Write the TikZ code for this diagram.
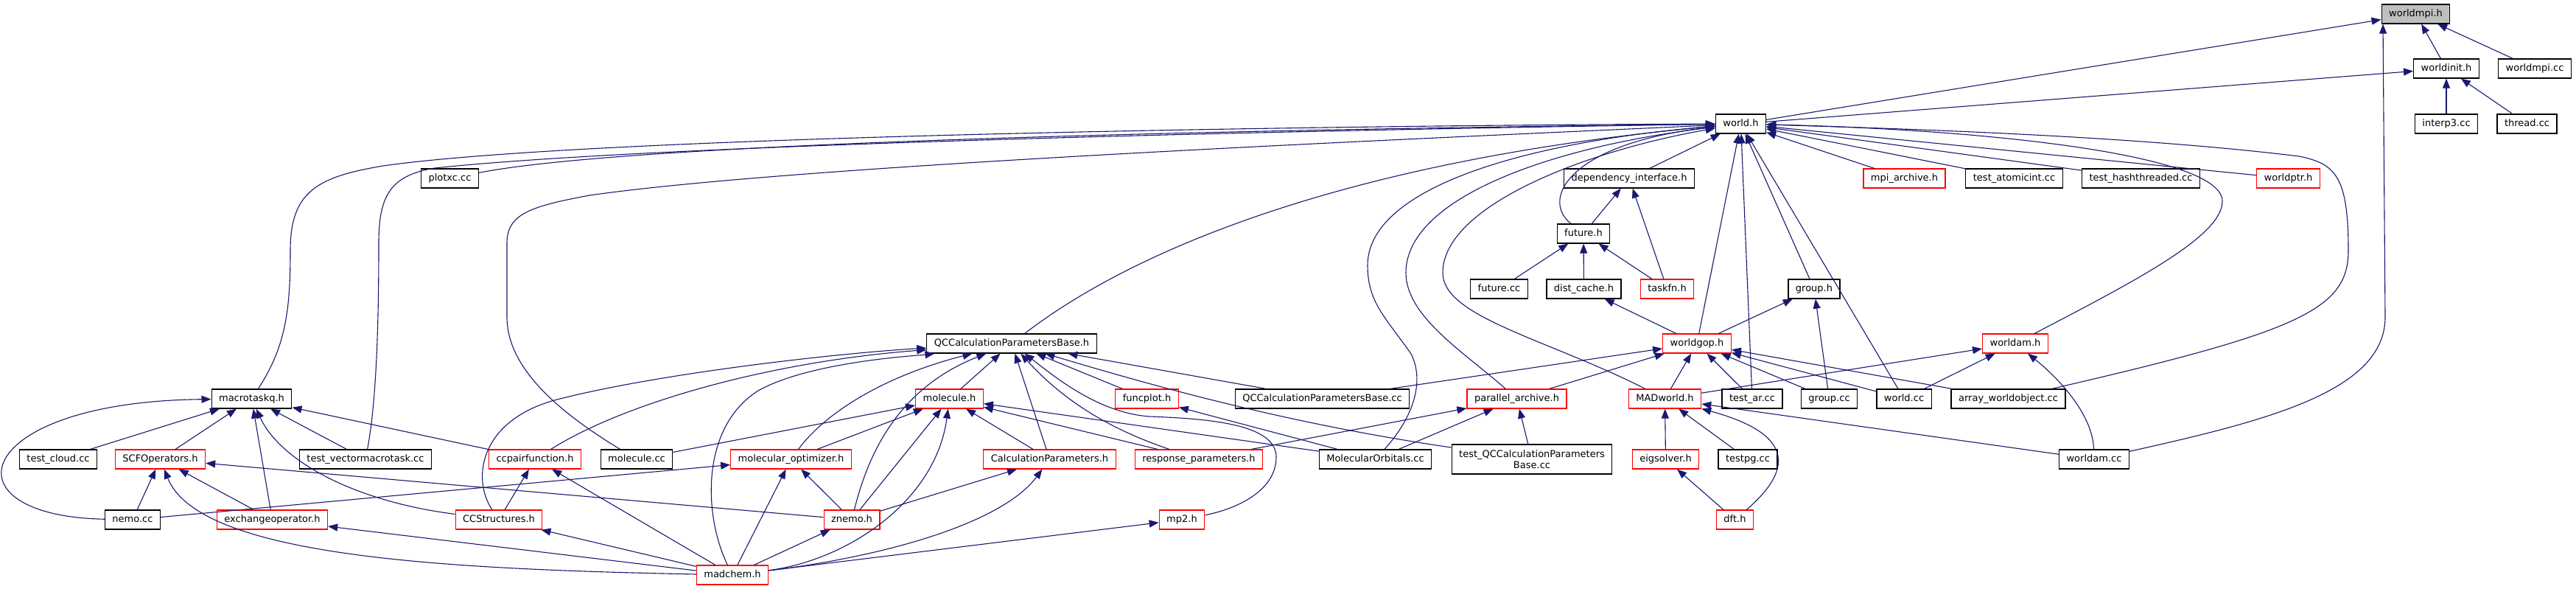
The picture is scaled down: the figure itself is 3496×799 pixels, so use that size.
\documentclass[tikz,border=0pt]{standalone}
\usepackage{fontspec}
\setmainfont{DejaVu Sans}
\usepackage{tikz}
\usetikzlibrary{arrows.meta}
\usepackage{xcolor}
\definecolor{incblue}{HTML}{191970}
\definecolor{rootfill}{HTML}{BFBFBF}
\definecolor{cut}{HTML}{FF0000}
\tikzset{
  >={Triangle[length=13pt,width=10pt]},
  every node/.style={font=\fontsize{13}{15}\selectfont},
  filebox/.style={draw=black,fill=white,line width=1.2pt,minimum height=26pt,inner xsep=10pt,inner ysep=2pt},
  hbox/.style={filebox,text height=9.6pt,text depth=2.6pt},
  cutbox/.style={hbox,draw=cut},
  rootbox/.style={hbox,fill=rootfill},
  incl/.style={->,line width=1.1pt,draw=incblue},
}
\begin{document}
\begin{tikzpicture}[x=1pt,y=-1pt]

\fill[white] (0,0) rectangle (3496,799);
\useasboundingbox (0,0) rectangle (3496,799);

\node[rootbox] (wmpih) at (3278.5,19) {worldmpi.h};
\node[hbox] (winit) at (3320,93) {worldinit.h};
\node[hbox] (wmpicc) at (3440,93) {worldmpi.cc};
\node[hbox] (worldh) at (2362.5,168) {world.h};
\node[hbox] (interp) at (3320,168) {interp3.cc};
\node[hbox] (thread) at (3429.5,168) {thread.cc};

\node[hbox] (plotxc) at (610.5,242) {plotxc.cc};
\node[hbox] (depint) at (2211,242) {dependency\_interface.h};
\node[cutbox] (mpiarch) at (2584.5,242) {mpi\_archive.h};
\node[hbox] (atomic) at (2733.5,242) {test\_atomicint.cc};
\node[hbox] (hashthr) at (2905.5,242) {test\_hashthreaded.cc};
\node[cutbox] (wptr) at (3105.5,242) {worldptr.h};
\node[hbox] (futureh) at (2149,317) {future.h};
\node[hbox] (futurecc) at (2034.5,392) {future.cc};
\node[hbox] (distc) at (2149.5,392) {dist\_cache.h};
\node[cutbox] (taskfn) at (2262.5,392) {taskfn.h};
\node[hbox] (grouph) at (2462,392) {group.h};

\node[hbox] (qcpbh) at (1373,466) {QCCalculationParametersBase.h};
\node[cutbox] (wgop) at (2303,466) {worldgop.h};
\node[cutbox] (wamh) at (2735,466) {worldam.h};

\node[hbox] (mtq) at (341.5,541) {macrotaskq.h};
\node[cutbox] (molh) at (1288.5,541) {molecule.h};
\node[cutbox] (fplot) at (1556.5,541) {funcplot.h};
\node[hbox] (qcpbcc) at (1794.5,541) {QCCalculationParametersBase.cc};
\node[cutbox] (pararch) at (2058.5,541) {parallel\_archive.h};
\node[cutbox] (madw) at (2259.5,541) {MADworld.h};
\node[hbox] (testar) at (2378,541) {test\_ar.cc};
\node[hbox] (groupcc) at (2482.5,541) {group.cc};
\node[hbox] (worldcc) at (2584,541) {world.cc};
\node[hbox] (awo) at (2725.5,541) {array\_worldobject.cc};

\node[hbox] (tcloud) at (79,623) {test\_cloud.cc};
\node[cutbox] (scfop) at (217.5,623) {SCFOperators.h};
\node[hbox] (tvmt) at (496,623) {test\_vectormacrotask.cc};
\node[cutbox] (ccpair) at (726,623) {ccpairfunction.h};
\node[hbox] (molcc) at (864,623) {molecule.cc};
\node[cutbox] (molopt) at (1073.5,623) {molecular\_optimizer.h};
\node[cutbox] (calcp) at (1424.5,623) {CalculationParameters.h};
\node[cutbox] (respp) at (1627,623) {response\_parameters.h};
\node[hbox] (morb) at (1866.5,623) {MolecularOrbitals.cc};
\node[filebox,align=center,minimum height=40pt] (tqcpb) at (2079,623) {test\_QCCalculationParameters\\Base.cc};
\node[cutbox] (eigs) at (2260.5,623) {eigsolver.h};
\node[hbox] (testpg) at (2372,623) {testpg.cc};
\node[hbox] (wamcc) at (2842,623) {worldam.cc};

\node[hbox] (nemo) at (180,705) {nemo.cc};
\node[cutbox] (xop) at (369.5,705) {exchangeoperator.h};
\node[cutbox] (ccs) at (677,705) {CCStructures.h};
\node[cutbox] (znemo) at (1156,705) {znemo.h};
\node[cutbox] (mp2) at (1604,705) {mp2.h};
\node[cutbox] (dft) at (2354.5,705) {dft.h};
\node[cutbox] (madchem) at (994,780) {madchem.h};

\draw[incl] (worldh) -- (wmpih);
\draw[incl] (winit) -- (wmpih);
\draw[incl] (wmpicc) -- (wmpih);
\draw[incl] (wamcc) .. controls (3080,570) and (3237,530) .. (3237,430) -- (wmpih.197);
\draw[incl] (worldh) -- (winit);
\draw[incl] (interp) -- (winit);
\draw[incl] (thread) -- (winit);

\draw[incl] (depint) -- (worldh);
\draw[incl] (mpiarch) -- (worldh);
\draw[incl] (atomic) -- (worldh);
\draw[incl] (hashthr) -- (worldh);
\draw[incl] (wptr) -- (worldh);
\draw[incl] (grouph) -- (worldh);
\draw[incl] (wgop) -- (worldh);
\draw[incl] (testar) -- (worldh);
\draw[incl] (worldcc) -- (worldh);
\draw[incl] (plotxc) .. controls (800,205) and (1300,180) .. (worldh);
\draw[incl] (qcpbh) .. controls (1550,330) and (1850,215) .. (worldh);
\draw[incl] (mtq) .. controls (388,470) and (394,420) .. (394,340) .. controls (394,260) and (430,240) .. (520,225) .. controls (800,185) and (1800,170) .. (worldh);
\draw[incl] (tvmt) .. controls (512,540) and (514,420) .. (514,330) .. controls (514,265) and (530,238) .. (590,228) .. controls (900,195) and (1800,176) .. (worldh);
\draw[incl] (molcc) .. controls (760,560) and (688,500) .. (688,430) -- (688,330) .. controls (688,290) and (720,280) .. (800,265) .. controls (1100,222) and (2000,185) .. (worldh);
\draw[incl] (futureh) .. controls (2090,270) and (2130,195) .. (worldh);
\draw[incl] (morb) .. controls (1915,570) and (1935,520) .. (1915,480) .. controls (1880,430) and (1856,410) .. (1856,360) .. controls (1856,260) and (2050,195) .. (worldh);
\draw[incl] (pararch) .. controls (1990,480) and (1908,430) .. (1908,370) .. controls (1908,270) and (2100,200) .. (worldh);
\draw[incl] (madw) .. controls (2100,460) and (1958,430) .. (1958,370) .. controls (1958,280) and (2150,205) .. (worldh);
\draw[incl] (wamh) .. controls (2900,380) and (3016,320) .. (3016,273) .. controls (3016,210) and (2700,176) .. (worldh);
\draw[incl] (awo) .. controls (3120,450) and (3187,420) .. (3187,340) .. controls (3187,240) and (3170,222) .. (3120,212) .. controls (2900,185) and (2600,175) .. (worldh);

\draw[incl] (futureh) -- (depint);
\draw[incl] (taskfn) -- (depint);
\draw[incl] (futurecc) -- (futureh);
\draw[incl] (distc) -- (futureh);
\draw[incl] (taskfn) -- (futureh);
\draw[incl] (wgop) -- (distc);
\draw[incl] (wgop) -- (grouph);
\draw[incl] (groupcc) -- (grouph);

\draw[incl] (qcpbcc) -- (wgop);
\draw[incl] (pararch) -- (wgop);
\draw[incl] (madw) -- (wgop);
\draw[incl] (testar) -- (wgop);
\draw[incl] (groupcc) -- (wgop);
\draw[incl] (worldcc) -- (wgop);
\draw[incl] (awo) -- (wgop);
\draw[incl] (madw) -- (wamh);
\draw[incl] (worldcc) -- (wamh);
\draw[incl] (wamcc) .. controls (2840,560) and (2790,510) .. (wamh);
\draw[incl] (wamcc) -- (madw);
\draw[incl] (testpg) -- (madw);
\draw[incl] (eigs) -- (madw);
\draw[incl] (dft) .. controls (2430,640) and (2440,590) .. (madw);
\draw[incl] (dft) -- (eigs);
\draw[incl] (respp) -- (pararch);
\draw[incl] (morb) -- (pararch);
\draw[incl] (tqcpb) -- (pararch);
\draw[incl] (morb) -- (fplot);

\draw[incl] (qcpbcc) -- (qcpbh);
\draw[incl] (fplot) -- (qcpbh);
\draw[incl] (molh) -- (qcpbh);
\draw[incl] (calcp) -- (qcpbh);
\draw[incl] (ccs) .. controls (640,650) and (650,570) .. (756,542) .. controls (900,505) and (1150,478) .. (qcpbh);
\draw[incl] (ccpair) .. controls (850,545) and (1050,490) .. (qcpbh);
\draw[incl] (madchem) .. controls (955,700) and (950,580) .. (1029,530) .. controls (1100,490) and (1250,482) .. (qcpbh);
\draw[incl] (molopt) .. controls (1120,560) and (1200,510) .. (qcpbh);
\draw[incl] (znemo) .. controls (1175,630) and (1210,530) .. (qcpbh);
\draw[incl] (respp) .. controls (1500,580) and (1440,540) .. (qcpbh);
\draw[incl] (mp2) .. controls (1680,690) and (1732,665) .. (1732,620) .. controls (1732,575) and (1640,568) .. (1560,565) .. controls (1490,560) and (1430,510) .. (qcpbh);
\draw[incl] (tqcpb) .. controls (1750,575) and (1570,525) .. (qcpbh);

\draw[incl] (morb) -- (molh);
\draw[incl] (respp) -- (molh);
\draw[incl] (calcp) -- (molh);
\draw[incl] (molcc) -- (molh);
\draw[incl] (molopt) -- (molh);
\draw[incl] (znemo) -- (molh);
\draw[incl] (madchem) .. controls (1150,760) and (1270,680) .. (molh);

\draw[incl] (tcloud) -- (mtq);
\draw[incl] (scfop) -- (mtq);
\draw[incl] (xop) -- (mtq);
\draw[incl] (tvmt) -- (mtq);
\draw[incl] (ccpair) -- (mtq);
\draw[incl] (nemo) .. controls (-80,700) and (-40,545) .. (mtq);
\draw[incl] (ccs) .. controls (480,680) and (380,625) .. (mtq);

\draw[incl] (nemo) -- (scfop);
\draw[incl] (xop) -- (scfop);
\draw[incl] (znemo) -- (scfop);
\draw[incl] (madchem) .. controls (600,772) and (270,755) .. (scfop);
\draw[incl] (nemo) -- (molopt);
\draw[incl] (ccs) -- (ccpair);
\draw[incl] (madchem) -- (ccpair);
\draw[incl] (madchem) -- (molopt);
\draw[incl] (znemo) -- (molopt);
\draw[incl] (znemo) -- (calcp);
\draw[incl] (madchem) .. controls (1200,755) and (1360,710) .. (calcp);
\draw[incl] (madchem) -- (znemo);
\draw[incl] (madchem) -- (ccs);
\draw[incl] (madchem) -- (xop);
\draw[incl] (madchem) -- (mp2);

\end{tikzpicture}
\end{document}
